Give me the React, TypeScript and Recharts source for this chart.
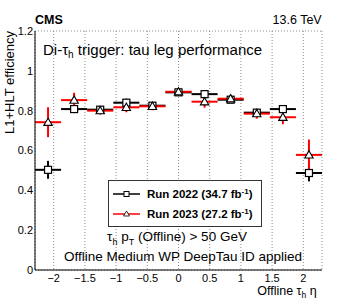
import React from 'react';
import { ComposedChart, Scatter, XAxis, YAxis, CartesianGrid, ErrorBar, Legend, ReferenceLine } from 'recharts';

const etaCenters = [-2.091, -1.673, -1.255, -0.836, -0.418, 0, 0.418, 0.836, 1.255, 1.673, 2.091];
const etaHalfWidths = [0.209, 0.209, 0.209, 0.209, 0.209, 0.209, 0.209, 0.209, 0.209, 0.209, 0.209];
const eff2022 = [0.503, 0.808, 0.805, 0.84, 0.825, 0.892, 0.883, 0.855, 0.79, 0.808, 0.487];
const err2022 = [0.045, 0.02, 0.015, 0.02, 0.015, 0.012, 0.015, 0.012, 0.015, 0.02, 0.042];
const eff2023 = [0.742, 0.853, 0.8, 0.817, 0.822, 0.895, 0.845, 0.86, 0.785, 0.767, 0.578];
const err2023 = [0.075, 0.037, 0.02, 0.025, 0.02, 0.012, 0.03, 0.02, 0.025, 0.035, 0.077];

const xMajorTicks = [-2, -1.5, -1, -0.5, 0, 0.5, 1, 1.5, 2];
const xMinorTicks = [
  -2.3, -2.2, -2.1, -2.0, -1.9, -1.8, -1.7, -1.6, -1.5, -1.4, -1.3, -1.2, -1.1, -1.0, -0.9, -0.8,
  -0.7, -0.6, -0.5, -0.4, -0.3, -0.2, -0.1, 0, 0.1, 0.2, 0.3, 0.4, 0.5, 0.6, 0.7, 0.8, 0.9, 1.0,
  1.1, 1.2, 1.3, 1.4, 1.5, 1.6, 1.7, 1.8, 1.9, 2.0, 2.1, 2.2, 2.3,
];
const yMajorTicks = [0, 0.2, 0.4, 0.6, 0.8, 1.0, 1.2];
const yMinorTicks = [
  0, 0.05, 0.1, 0.15, 0.2, 0.25, 0.3, 0.35, 0.4, 0.45, 0.5, 0.55, 0.6, 0.65, 0.7, 0.75, 0.8, 0.85,
  0.9, 0.95, 1.0, 1.05, 1.1, 1.15, 1.2,
];

const X_DOMAIN: [number, number] = [-2.3, 2.3];
const Y_DOMAIN: [number, number] = [0, 1.2];

const series2022 = etaCenters.map((x, i) => ({ x, y: eff2022[i], xerr: etaHalfWidths[i], yerr: err2022[i] }));
const series2023 = etaCenters.map((x, i) => ({ x, y: eff2023[i], xerr: etaHalfWidths[i], yerr: err2023[i] }));

const FONT = "'Liberation Sans', Arial, Helvetica, sans-serif";
const RED = '#ff0000';

const SquareMarker = (props: any) => {
  const { cx, cy } = props;
  if (cx == null || cy == null) return null;
  return <rect x={cx - 3.5} y={cy - 3.5} width={7} height={7} fill="#fff" stroke="#000" strokeWidth={1.2} />;
};

const TriangleMarker = (props: any) => {
  const { cx, cy } = props;
  if (cx == null || cy == null) return null;
  const s = 4.2;
  return (
    <polygon
      points={`${cx},${cy - s} ${cx + s},${cy + s * 0.75} ${cx - s},${cy + s * 0.75}`}
      fill="#fff"
      stroke="#000"
      strokeWidth={1.1}
    />
  );
};

const fmt = (v: number) => String(Math.round(v * 100) / 100).replace('-', '\u2212');

const XTick = (props: any) => {
  const { x, y, payload } = props;
  return (
    <text x={x} y={y} dy={9} textAnchor="middle" fontFamily={FONT} fontSize={11} fill="#000">
      {fmt(payload.value)}
    </text>
  );
};

const LegendBox = () => (
  <svg width={154} height={47} style={{ display: 'block' }}>
    <rect x={0.5} y={0.5} width={153} height={46} fill="#fff" stroke="#333" strokeWidth={1} />
    <line x1={5} y1={14} x2={32} y2={14} stroke="#000" strokeWidth={1.5} />
    <rect x={16} y={11.5} width={5} height={5} fill="#fff" stroke="#000" strokeWidth={1} />
    <text x={39} y={18} fontFamily={FONT} fontSize={11.5} fontWeight="bold" fill="#000">
      Run 2022 (34.7 fb<tspan dy={-4} fontSize={8}>-1</tspan><tspan dy={4}>)</tspan>
    </text>
    <line x1={5} y1={34} x2={32} y2={34} stroke={RED} strokeWidth={1.5} />
    <polygon points="18.5,31 21.5,36 15.5,36" fill="#fff" stroke="#000" strokeWidth={0.8} />
    <text x={39} y={38} fontFamily={FONT} fontSize={11.5} fontWeight="bold" fill="#000">
      Run 2023 (27.2 fb<tspan dy={-4} fontSize={8}>-1</tspan><tspan dy={4}>)</tspan>
    </text>
  </svg>
);

export default function App() {
  return (
    <div style={{ position: 'absolute', left: 0, top: 0, width: 357, height: 301, background: '#fff' }}>
      <ComposedChart
        width={357}
        height={301}
        margin={{ top: 31, right: 35, bottom: 0, left: 0 }}
        style={{ fontFamily: FONT }}
      >
        <CartesianGrid stroke="#8a8a8a" strokeDasharray="1 2" strokeWidth={1} />
        <XAxis
          dataKey="x"
          type="number"
          domain={X_DOMAIN}
          ticks={xMajorTicks}
          interval={0}
          allowDataOverflow
          height={31}
          tickSize={0}
          tickMargin={3}
          tickLine={false}
          axisLine={{ stroke: '#000', strokeWidth: 1 }}
          tick={<XTick />}
        />
        <XAxis
          xAxisId="xmaj"
          type="number"
          domain={X_DOMAIN}
          ticks={xMajorTicks}
          interval={0}
          allowDataOverflow
          mirror
          height={0}
          tickSize={6}
          tick={false}
          axisLine={false}
          tickLine={{ stroke: '#000' }}
        />
        <XAxis
          xAxisId="xmin"
          type="number"
          domain={X_DOMAIN}
          ticks={xMinorTicks}
          interval={0}
          allowDataOverflow
          mirror
          height={0}
          tickSize={3.5}
          tick={false}
          axisLine={false}
          tickLine={{ stroke: '#000' }}
        />
        <XAxis
          xAxisId="xtop"
          orientation="top"
          type="number"
          domain={X_DOMAIN}
          ticks={xMajorTicks}
          allowDataOverflow
          mirror
          height={0}
          tick={false}
          tickLine={false}
          axisLine={{ stroke: '#555', strokeWidth: 1 }}
        />
        <YAxis
          dataKey="y"
          type="number"
          domain={Y_DOMAIN}
          ticks={yMajorTicks}
          interval={0}
          width={35}
          tickSize={0}
          tickLine={false}
          tick={false}
          axisLine={{ stroke: '#000', strokeWidth: 1 }}
        />
        <YAxis
          yAxisId="ymaj"
          type="number"
          domain={Y_DOMAIN}
          ticks={yMajorTicks}
          interval={0}
          allowDataOverflow
          mirror
          width={0}
          tickSize={7}
          tick={false}
          axisLine={false}
          tickLine={{ stroke: '#000' }}
        />
        <YAxis
          yAxisId="ymin"
          type="number"
          domain={Y_DOMAIN}
          ticks={yMinorTicks}
          interval={0}
          allowDataOverflow
          mirror
          width={0}
          tickSize={4}
          tick={false}
          axisLine={false}
          tickLine={{ stroke: '#000' }}
        />
        <YAxis
          yAxisId="yright"
          orientation="right"
          type="number"
          domain={Y_DOMAIN}
          ticks={yMajorTicks}
          allowDataOverflow
          mirror
          width={0}
          tick={false}
          tickLine={false}
          axisLine={{ stroke: '#555', strokeWidth: 1 }}
        />
        {yMajorTicks.map((v) => (
          <ReferenceLine
            key={`ylab-${v}`}
            y={v}
            stroke="none"
            ifOverflow="visible"
            label={{ value: fmt(v), position: 'left', offset: 2, fill: '#000', fontSize: 11, fontFamily: FONT }}
          />
        ))}
        <Legend
          verticalAlign="middle"
          align="center"
          content={() => <LegendBox />}
          wrapperStyle={{ position: 'absolute', left: 108, top: 180, width: 154, height: 47 }}
        />
        <Scatter
          name="Run 2022 (34.7 fb-1)"
          data={series2022}
          shape={<SquareMarker />}
          isAnimationActive={false}
        >
          <ErrorBar dataKey="xerr" direction="x" width={0} stroke="#000" strokeWidth={2} isAnimationActive={false} />
          <ErrorBar dataKey="yerr" direction="y" width={0} stroke="#000" strokeWidth={2} isAnimationActive={false} />
        </Scatter>
        <Scatter
          name="Run 2023 (27.2 fb-1)"
          data={series2023}
          shape={<TriangleMarker />}
          isAnimationActive={false}
        >
          <ErrorBar dataKey="xerr" direction="x" width={0} stroke={RED} strokeWidth={2} isAnimationActive={false} />
          <ErrorBar dataKey="yerr" direction="y" width={0} stroke={RED} strokeWidth={2} isAnimationActive={false} />
        </Scatter>
      </ComposedChart>
      <svg
        width={357}
        height={301}
        style={{ position: 'absolute', left: 0, top: 0, pointerEvents: 'none' }}
        fontFamily={FONT}
      >
        <text x={35} y={24} fontSize={12.5} fontWeight="bold" fill="#000">CMS</text>
        <text x={321.7} y={24} fontSize={12.5} textAnchor="end" fill="#000">13.6 TeV</text>
        <text x={43} y={54.5} fontSize={15} fill="#000">
          Di-τ<tspan dy={3.5} fontSize={10}>h</tspan>
          <tspan dy={-3.5}> trigger: tau leg performance</tspan>
        </text>
        <text x={177} y={241} fontSize={13.5} textAnchor="middle" fill="#000">
          τ<tspan dy={3.5} fontSize={9}>h</tspan>
          <tspan dy={-3.5}> p</tspan>
          <tspan dy={3.5} fontSize={9}>T</tspan>
          <tspan dy={-3.5}> (Offline) &gt; 50 GeV</tspan>
        </text>
        <text x={183} y={261} fontSize={13.5} textAnchor="middle" fill="#000">
          Offline Medium WP DeepTau ID applied
        </text>
        <text x={316.7} y={294.5} fontSize={12.5} textAnchor="end" fill="#000">
          Offline τ<tspan dy={3} fontSize={8.5}>h</tspan>
          <tspan dy={-3}> η</tspan>
        </text>
        <text
          x={14}
          y={31}
          fontSize={13}
          textAnchor="end"
          fill="#000"
          transform="rotate(-90 14 31)"
        >
          L1+HLT efficiency
        </text>
      </svg>
    </div>
  );
}
